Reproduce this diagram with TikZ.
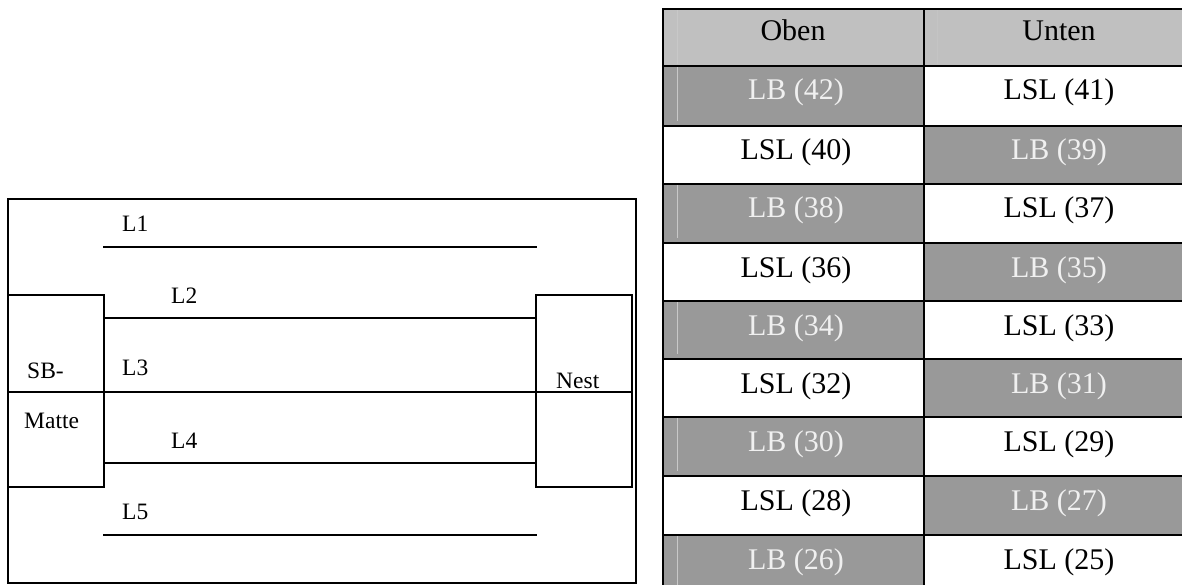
\documentclass[tikz,border=0pt]{standalone}
\usepackage{fontspec}
\setmainfont{Liberation Serif}
\definecolor{hdrgray}{RGB}{192,192,192}
\definecolor{darkcell}{RGB}{153,153,153}
\definecolor{lighttext}{RGB}{240,240,240}
\definecolor{faint}{RGB}{200,200,200}
\begin{document}
\begin{tikzpicture}[x=1pt,y=-1pt,
  lbl/.style={anchor=base west, inner sep=0pt, font=\fontsize{23.5}{27}\selectfont},
  celltext/.style={anchor=base, inner sep=0pt, font=\fontsize{30}{34}\selectfont},
  boxframe/.style={draw, line width=1.8pt, inner sep=0pt, outer sep=0pt, anchor=north west},
  wire/.style={line width=1.8pt},
  grid/.style={line width=2.4pt},
  faintline/.style={draw=faint, line width=0.8pt}
]
\useasboundingbox (0,0) rectangle (1182,585);

% ---------- left diagram ----------
\node[boxframe, minimum width=628pt, minimum height=384pt] (outer) at (8,199) {};
\node[boxframe, minimum width=96pt, minimum height=192pt] (sb) at (8,295) {};
\node[boxframe, minimum width=96pt, minimum height=192pt] (nest) at (536,295) {};

\coordinate (l1a) at (103,247); \coordinate (l1b) at (537,247);
\coordinate (l2a) at (104,318); \coordinate (l2b) at (536,318);
\coordinate (ma)  at (8,392);   \coordinate (mb)  at (632,392);
\coordinate (l4a) at (104,463); \coordinate (l4b) at (536,463);
\coordinate (l5a) at (103,535); \coordinate (l5b) at (537,535);
\draw[wire] (l1a) -- (l1b);
\draw[wire] (l2a) -- (l2b);
\draw[wire] (ma) -- (mb);
\draw[wire] (l4a) -- (l4b);
\draw[wire] (l5a) -- (l5b);

\node[lbl] (t1) at (122,232) {L1};
\node[lbl] (t2) at (171,303) {L2};
\node[lbl] (t3) at (122,375) {L3};
\node[lbl] (t4) at (171,448) {L4};
\node[lbl] (t5) at (122,519) {L5};
\node[lbl] (tsb) at (27,378) {SB-};
\node[lbl] (tmatte) at (24,428) {Matte};
\node[lbl] (tnest) at (556,388) {Nest};

% ---------- table ----------
% header
\fill[hdrgray] (663,9) rectangle (1210,66);
\draw[faintline] (677,10) -- (677,64);
\draw[faintline, draw=faint!50!hdrgray] (937,10) -- (937,64);
\node[celltext] (hOben) at (793,41) {Oben};
\node[celltext] (hUnten) at (1059,41) {Unten};

\foreach \i/\tp/\bt in {1/66/126,2/126/184,3/184/243,4/243/301,5/301/359,6/359/417,7/417/476,8/476/535,9/535/594}{
  \pgfmathtruncatemacro\lnum{44-2*\i}
  \pgfmathtruncatemacro\rnum{43-2*\i}
  \ifodd\i
    \fill[darkcell] (663,\tp) rectangle (924,\bt);
    \draw[faintline] (677,\tp+1) -- (677,\bt-5);
    \node[celltext, text=lighttext] (left\i) at (796,\tp+34) {LB (\lnum)};
    \node[celltext] (right\i) at (1059,\tp+34) {LSL (\rnum)};
  \else
    \fill[darkcell] (924,\tp) rectangle (1210,\bt);
    \node[celltext] (left\i) at (796,\tp+34) {LSL (\lnum)};
    \node[celltext, text=lighttext] (right\i) at (1059,\tp+34) {LB (\rnum)};
  \fi
}

% grid lines
\draw[grid] (1210,9) -- (663,9) -- (663,600);
\draw[grid] (924,9) -- (924,600);
\foreach \y in {66,126,184,243,301,359,417,476,535}{
  \draw[grid] (663,\y) -- (1210,\y);
}
\end{tikzpicture}
\end{document}
